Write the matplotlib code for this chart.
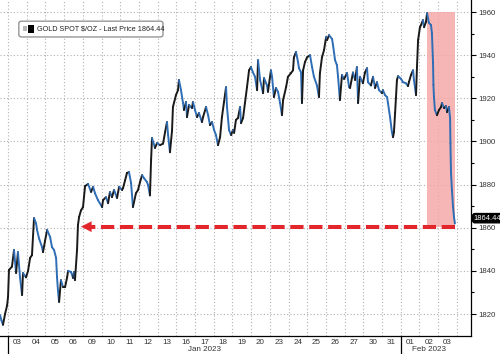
import matplotlib
matplotlib.use("Agg")
import matplotlib.pyplot as plt
import numpy as np
from matplotlib.collections import LineCollection
from matplotlib.transforms import blended_transform_factory
from matplotlib.patches import Rectangle, FancyBboxPatch

# ---- data: time in trading days since Jan 3 2023 open, gold spot price ----
t_days = [-0.43, -0.35, -0.27, -0.16, -0.05, 0.00, 0.05, 0.21, 0.32, 0.43, 0.53, 0.64, 0.75, 0.80,
          0.96, 1.07, 1.18, 1.28, 1.39, 1.50, 1.55, 1.66, 1.82, 1.87, 1.98, 2.09, 2.25, 2.35, 2.46,
          2.57, 2.62, 2.67, 2.73, 2.83, 2.94, 3.05, 3.16, 3.21, 3.37, 3.48, 3.53, 3.58, 3.69, 3.74,
          3.80, 3.90, 4.01, 4.12, 4.28, 4.44, 4.55, 4.65, 4.81, 5.03, 5.08, 5.24, 5.35, 5.45, 5.56,
          5.67, 5.83, 5.94, 6.10, 6.15, 6.26, 6.36, 6.47, 6.58, 6.68, 6.84, 6.95, 7.06, 7.17, 7.27,
          7.43, 7.49, 7.59, 7.65, 7.70, 7.86, 7.97, 8.13, 8.29, 8.40, 8.50, 8.56, 8.66, 8.77, 8.82,
          8.98, 9.09, 9.14, 9.25, 9.36, 9.41, 9.52, 9.57, 9.68, 9.84, 9.89, 10.00, 10.11, 10.21,
          10.37, 10.43, 10.59, 10.70, 10.80, 10.91, 11.02, 11.12, 11.23, 11.34, 11.44, 11.55, 11.66,
          11.71, 11.82, 11.93, 12.03, 12.09, 12.19, 12.30, 12.41, 12.46, 12.57, 12.67, 12.78, 12.89,
          12.99, 13.10, 13.21, 13.32, 13.37, 13.48, 13.64, 13.69, 13.85, 13.90, 14.06, 14.12, 14.22,
          14.33, 14.44, 14.55, 14.65, 14.71, 14.87, 14.97, 15.13, 15.24, 15.29, 15.40, 15.51, 15.56,
          15.67, 15.72, 15.78, 15.88, 15.99, 16.15, 16.26, 16.36, 16.52, 16.63, 16.68, 16.79, 16.90,
          17.01, 17.06, 17.17, 17.33, 17.38, 17.49, 17.59, 17.65, 17.75, 17.86, 17.97, 18.13, 18.24,
          18.29, 18.45, 18.56, 18.66, 18.72, 18.82, 18.98, 19.09, 19.20, 19.25, 19.41, 19.52, 19.63,
          19.73, 19.84, 20.00, 20.05, 20.16, 20.27, 20.32, 20.43, 20.53, 20.59, 20.64, 20.70, 20.80,
          20.86, 21.02, 21.12, 21.28, 21.39, 21.44, 21.55, 21.66, 21.71, 21.82, 21.87, 21.93, 22.03,
          22.09, 22.19, 22.25, 22.35, 22.41, 22.51, 22.62, 22.67, 22.73, 22.75, 22.78, 22.83, 22.94,
          23.05, 23.16, 23.21, 23.32, 23.42, 23.48, 23.58, 23.64, 23.66, 23.69, 23.74, 23.80, 23.85,
          23.90]
price = [1819.5, 1817.0, 1815.0, 1820.0, 1824.0, 1828.0, 1840.4, 1842.0, 1849.7, 1839.0, 1848.7,
         1837.0, 1828.8, 1839.0, 1837.0, 1840.0, 1846.0, 1847.3, 1864.5, 1862.0, 1859.0, 1855.0,
         1851.0, 1848.7, 1854.0, 1859.0, 1855.7, 1851.0, 1849.7, 1846.0, 1837.0, 1831.0, 1825.6,
         1835.7, 1832.5, 1832.5, 1837.0, 1840.0, 1839.5, 1836.7, 1839.5, 1835.7, 1849.7, 1861.3,
         1865.0, 1868.0, 1869.6, 1879.3, 1880.3, 1876.6, 1879.0, 1876.0, 1872.8, 1869.6, 1872.8,
         1874.2, 1871.4, 1876.6, 1874.2, 1877.5, 1873.8, 1879.0, 1877.5, 1878.4, 1882.0, 1885.4,
         1885.8, 1880.7, 1869.6, 1876.0, 1877.5, 1881.2, 1884.4, 1883.0, 1881.2, 1879.8, 1875.0,
         1891.4, 1901.6, 1897.0, 1899.3, 1898.3, 1899.0, 1904.4, 1909.0, 1903.0, 1895.0, 1905.0,
         1916.0, 1921.5, 1923.8, 1928.5, 1923.8, 1917.8, 1914.6, 1918.3, 1911.3, 1916.9, 1915.5,
         1918.3, 1914.6, 1911.3, 1913.2, 1909.0, 1911.3, 1916.0, 1912.2, 1907.6, 1909.0, 1905.3,
         1903.0, 1898.3, 1902.0, 1911.3, 1918.3, 1925.2, 1916.0, 1905.3, 1903.0, 1905.3, 1904.0,
         1910.0, 1910.9, 1916.0, 1908.5, 1910.9, 1917.8, 1925.2, 1933.0, 1934.5, 1932.0, 1930.0,
         1923.8, 1937.7, 1928.5, 1922.4, 1929.4, 1926.0, 1923.0, 1933.0, 1930.0, 1920.6, 1924.8,
         1923.0, 1917.8, 1912.2, 1919.2, 1925.2, 1930.0, 1931.7, 1933.0, 1939.0, 1941.5, 1936.8,
         1934.0, 1932.0, 1917.8, 1933.0, 1936.8, 1939.0, 1940.0, 1934.5, 1930.0, 1926.0, 1920.6,
         1931.7, 1939.0, 1942.4, 1948.4, 1947.0, 1949.3, 1947.5, 1944.7, 1937.7, 1935.4, 1930.0,
         1919.2, 1930.8, 1929.0, 1931.7, 1925.2, 1924.8, 1932.0, 1928.5, 1934.5, 1917.8, 1930.0,
         1927.0, 1932.0, 1934.0, 1927.5, 1926.0, 1930.0, 1924.8, 1927.5, 1923.8, 1922.4, 1923.8,
         1921.5, 1920.6, 1917.8, 1911.3, 1904.4, 1902.0, 1904.4, 1913.2, 1928.5, 1930.3, 1929.0,
         1927.5, 1927.0, 1925.7, 1927.5, 1930.8, 1933.0, 1928.5, 1921.5, 1934.5, 1947.0, 1953.0,
         1954.0, 1956.3, 1953.0, 1955.4, 1959.5, 1955.0, 1954.0, 1950.3, 1936.4, 1926.2, 1920.6,
         1914.6, 1912.2, 1914.6, 1916.0, 1917.8, 1915.5, 1916.4, 1913.6, 1916.0, 1910.9, 1899.3,
         1885.4, 1877.5, 1869.6, 1865.0, 1862.0]

last_price = 1864.44
day_labels = ["03", "04", "05", "06", "09", "10", "11", "12", "13", "16", "17", "18", "19", "20",
              "23", "24", "25", "26", "27", "30", "31", "01", "02", "03"]
months = ["Jan 2023", "Feb 2023"]
month_start_day = [0, 21]
month_end_day = [21, 24]
y_ticks = [1820, 1840, 1860, 1880, 1900, 1920, 1940, 1960]
y_minor = [1830, 1850, 1870, 1890, 1910, 1930, 1950]
legend_text = "GOLD SPOT $/OZ - Last Price 1864.44"
shade_start, shade_end = 22.41, 23.9
shade_low, shade_high = 1860.5, 1960.0
arrow_level = 1860.5
arrow_from_day, arrow_to_day = 23.9, 3.9

FONT = ["Liberation Sans", "DejaVu Sans"]
plt.rcParams["font.family"] = FONT

fig = plt.figure(figsize=(5.0, 3.54), dpi=100)
ax = fig.add_axes([0.0, 0.0508, 0.942, 0.9492])
ax.set_xlim(-0.43, 24.76)
ax.set_ylim(1809.8, 1965.6)

# grid
for k in range(0, 25):
    ax.axvline(k, color="#b0b0b0", lw=0.8, ls=(0, (1, 2)), zorder=1)
for yv in y_ticks:
    ax.axhline(yv, color="#b0b0b0", lw=0.8, ls=(0, (1, 2)), zorder=1)

# shaded region
ax.add_patch(Rectangle((shade_start, shade_low), shade_end - shade_start, shade_high - shade_low,
                       facecolor="#f5a9a9", edgecolor="none", alpha=0.85, zorder=2))

# price line, up-moves black, down-moves blue
t = np.array(t_days)
p = np.array(price)
pts = np.column_stack([t, p]).reshape(-1, 1, 2)
segs = np.concatenate([pts[:-1], pts[1:]], axis=1)
cols = ["#1a1a1a" if p[i + 1] >= p[i] else "#2f6db5" for i in range(len(p) - 1)]
lc = LineCollection(segs, colors=cols, linewidths=1.4, zorder=4, capstyle="round", joinstyle="round")
ax.add_collection(lc)

# dashed red arrow
tip_len = 0.52
ax.plot([arrow_from_day, arrow_to_day + tip_len], [arrow_level, arrow_level], color="#e3262b",
        lw=2.9, dashes=(3.3, 1.4), solid_capstyle="butt", zorder=5)
ax.annotate("", xy=(arrow_to_day, arrow_level), xytext=(arrow_to_day + tip_len, arrow_level),
            arrowprops=dict(arrowstyle="-|>,head_length=0.75,head_width=0.38", color="#e3262b",
                            lw=0.1, shrinkA=0, shrinkB=0), zorder=5)

# axes styling
for s in ["top", "left"]:
    ax.spines[s].set_visible(False)
ax.spines["right"].set_color("black")
ax.spines["right"].set_linewidth(0.9)
ax.spines["bottom"].set_color("black")
ax.spines["bottom"].set_linewidth(0.9)
ax.yaxis.tick_right()
ax.set_yticks(y_ticks)
ax.set_yticks(y_minor, minor=True)
ax.tick_params(axis="y", which="major", length=3.5, width=0.8, pad=2, labelsize=5.6,
               labelcolor="#333333", color="black")
ax.tick_params(axis="y", which="minor", length=2.5, width=0.8, color="black")
ax.set_xticks([k + 0.5 for k in range(len(day_labels))])
ax.set_xticklabels(day_labels)
ax.tick_params(axis="x", length=0, pad=2.0, labelsize=5.8, labelcolor="#333333")

trans = blended_transform_factory(ax.transData, ax.transAxes)
for ms, me, name in zip(month_start_day, month_end_day, months):
    ax.plot([ms, ms], [0, -0.06], color="black", lw=0.9, transform=trans, clip_on=False, zorder=6)
    ax.text((ms + me) / 2, -0.041, name, transform=trans, ha="center", va="center",
            fontsize=5.8, color="#333333")

# last price tag
ax.annotate(f"{last_price:.2f}", xy=(1.0, last_price), xycoords=("axes fraction", "data"),
            xytext=(2.0, 0), textcoords="offset points", ha="left", va="center",
            fontsize=5.4, color="white",
            bbox=dict(boxstyle="round,pad=0.15,rounding_size=0.3", fc="black", ec="black"),
            annotation_clip=False, zorder=7)

# legend box
ax.add_patch(FancyBboxPatch((0.040, 0.890), 0.306, 0.047, transform=ax.transAxes,
                            boxstyle="round,pad=0,rounding_size=0.006", fc="white",
                            ec="#8a8a8a", lw=0.9, zorder=8))
ax.add_patch(Rectangle((0.049, 0.908), 0.008, 0.014, transform=ax.transAxes, fc="#b8b8b8",
                       ec="none", zorder=9))
ax.add_patch(Rectangle((0.059, 0.902), 0.013, 0.024, transform=ax.transAxes, fc="black",
                       ec="none", zorder=9))
ax.text(0.0786, 0.914, legend_text, transform=ax.transAxes, ha="left", va="center",
        fontsize=5.2, color="#222222", zorder=9)

fig.savefig("out.png", dpi=100)
